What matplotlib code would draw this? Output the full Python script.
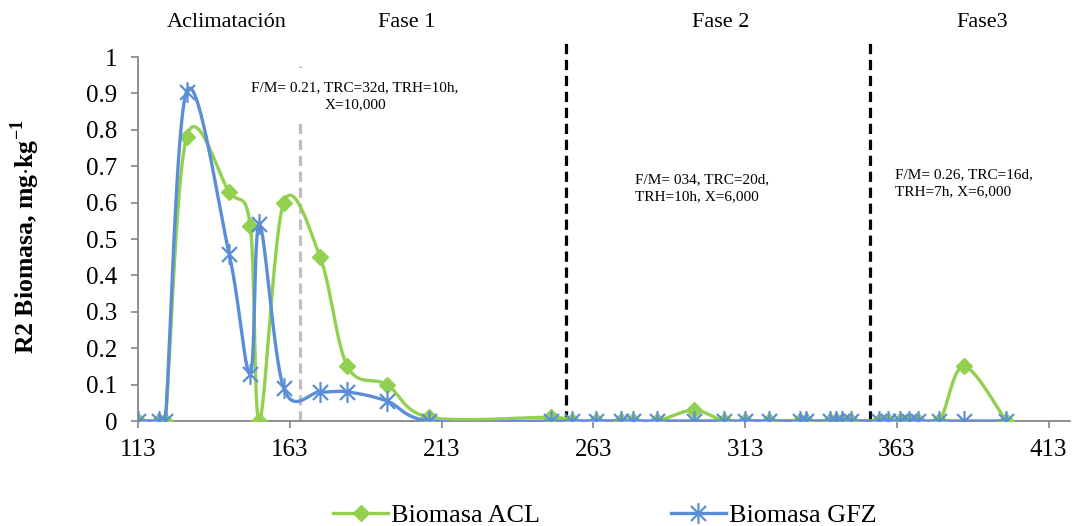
import numpy as np
import matplotlib
matplotlib.use("Agg")
import matplotlib.pyplot as plt
from matplotlib.ticker import FuncFormatter
from matplotlib.path import Path

plt.rcParams['font.family'] = ['Liberation Serif', 'DejaVu Serif']
plt.rcParams['mathtext.fontset'] = 'custom'
plt.rcParams['mathtext.rm'] = 'Liberation Serif'
plt.rcParams['mathtext.bf'] = 'Liberation Serif:bold'

# ---- data ----
days = [113, 120, 122, 129, 143, 150, 153, 161, 173, 182, 195, 209,
        249, 256, 264, 272, 276, 284, 296, 306, 313, 321, 331, 333,
        341, 343, 345, 348, 357, 360, 364, 367, 370, 377, 385, 399]
acl = [0, 0, 0, 0.78, 0.63, 0.535, 0, 0.60, 0.45, 0.15, 0.10, 0.01,
       0.01, 0, 0, 0, 0, 0, 0.03, 0, 0, 0, 0, 0,
       0, 0, 0, 0, 0, 0, 0, 0, 0, 0, 0.15, 0]
gfz = [0, 0, 0, 0.905, 0.46, 0.13, 0.54, 0.09, 0.08, 0.08, 0.055, 0,
       0, 0, 0, 0, 0, 0, 0, 0, 0, 0, 0, 0,
       0, 0, 0, 0, 0, 0, 0, 0, 0, 0, 0, 0]
series_names = ['Biomasa ACL', 'Biomasa GFZ']
xticks = [113, 163, 213, 263, 313, 363, 413]
yticks = [0, 0.1, 0.2, 0.3, 0.4, 0.5, 0.6, 0.7, 0.8, 0.9, 1.0]
phase_lines = [254, 354]
gray_line = 166.5
phase_labels = ['Aclimatación', 'Fase 1', 'Fase 2', 'Fase3']
phase_label_x = [142.3, 201.5, 304.8, 391.1]
notes = ['F/M= 0.21, TRC=32d, TRH=10h,\nX=10,000',
         'F/M= 034, TRC=20d,\nTRH=10h, X=6,000',
         'F/M= 0.26, TRC=16d,\nTRH=7h, X=6,000']
notes_xy = [(184.5, 0.893), (276.8, 0.64), (362.5, 0.654)]

GREEN = '#92D050'
BLUE = '#5B8ED6'
GRAY = '#868686'

# Excel-like star marker: vertical bar plus an X
_d = 0.72
STAR = Path([(0, -1), (0, 1), (-_d, -_d), (_d, _d), (-_d, _d), (_d, -_d)],
            [Path.MOVETO, Path.LINETO, Path.MOVETO, Path.LINETO,
             Path.MOVETO, Path.LINETO])

fig = plt.figure(figsize=(10.72, 5.26), dpi=100)
ax = fig.add_axes([138/1072, 1-421/526, (1070-138)/1072, (421-57)/526])
ax.set_xlim(113, 420)
ax.set_ylim(0, 1)


def smooth(ax, x, y, n=40):
    pts = ax.transData.transform(np.column_stack([x, y]))
    out = [pts[0]]
    m = len(pts)
    for i in range(m - 1):
        p0 = pts[i - 1] if i > 0 else pts[i]
        p1 = pts[i]
        p2 = pts[i + 1]
        p3 = pts[i + 2] if i + 2 < m else pts[i + 1]
        c1 = p1 + (p2 - p0) / 6.0
        c2 = p2 - (p3 - p1) / 6.0
        t = np.linspace(0, 1, n)[1:, None]
        seg = ((1-t)**3)*p1 + 3*((1-t)**2)*t*c1 + 3*(1-t)*t**2*c2 + t**3*p2
        out.extend(seg)
    out = np.array(out)
    d = ax.transData.inverted().transform(out)
    return d[:, 0], d[:, 1]


# lines (smoothed) with markers at data points
sx, sy = smooth(ax, days, acl)
ax.plot(sx, sy, color=GREEN, lw=2.4, zorder=3, solid_capstyle='round')
ax.plot(days, acl, ls='none', marker='D', ms=8, color=GREEN, zorder=4)
sx, sy = smooth(ax, days, gfz)
ax.plot(sx, sy, color=BLUE, lw=2.4, zorder=5, solid_capstyle='round')
ax.plot(days, gfz, ls='none', marker=STAR, ms=15, mew=1.6,
        color=BLUE, fillstyle='none', zorder=6)

# legend proxies
h1, = ax.plot([], [], color=GREEN, lw=2.4, marker='D', ms=8)
h2, = ax.plot([], [], color=BLUE, lw=2.4, marker=STAR, ms=15, mew=1.6,
              fillstyle='none')
fig.legend([h1, h2], series_names, loc='center',
           bbox_to_anchor=(605/1072, 1-515/526), ncol=2, frameon=False,
           fontsize=18.8, handlelength=2.1, handletextpad=0.12,
           columnspacing=5.0)

# phase separators
for xv in phase_lines:
    ax.plot([xv, xv], [0, 1.052], color='black', lw=2.3,
            dashes=(3.2, 1.8), clip_on=False, zorder=2)
ax.plot([gray_line, gray_line], [0, 0.975], color='#BFBFBF', lw=2.3,
        dashes=(3.2, 1.8), zorder=1)

for lab, xv in zip(phase_labels, phase_label_x):
    ax.text(xv, 1.096, lab, ha='center', va='center', fontsize=16,
            clip_on=False)

ax.text(*notes_xy[0], notes[0], ha='center', va='center', fontsize=11,
        multialignment='center', linespacing=1.4, zorder=1.5,
        bbox=dict(fc='white', ec='none', pad=9))
ax.text(*notes_xy[1], notes[1], ha='left', va='center', fontsize=11,
        linespacing=1.4)
ax.text(*notes_xy[2], notes[2], ha='left', va='center', fontsize=11,
        linespacing=1.4)

# axes styling
for s in ['top', 'right']:
    ax.spines[s].set_visible(False)
for s in ['left', 'bottom']:
    ax.spines[s].set_color(GRAY)
    ax.spines[s].set_linewidth(1.3)
ax.set_xticks(xticks)
ax.set_yticks(yticks)
ax.yaxis.set_major_formatter(FuncFormatter(lambda v, p: '%g' % v))
ax.tick_params(axis='both', colors=GRAY, labelcolor='black', labelsize=18,
               length=5, width=1.2)
ax.tick_params(axis='x', pad=8)
ax.tick_params(axis='y', pad=10)

ax.set_ylabel(r'R2 Biomasa, mg$\cdot$kg$^{\mathbf{-1}}$', fontsize=18.5,
              fontweight='bold')
ax.yaxis.set_label_coords(-0.1025, 0.507)

fig.savefig('out.png', dpi=100)
